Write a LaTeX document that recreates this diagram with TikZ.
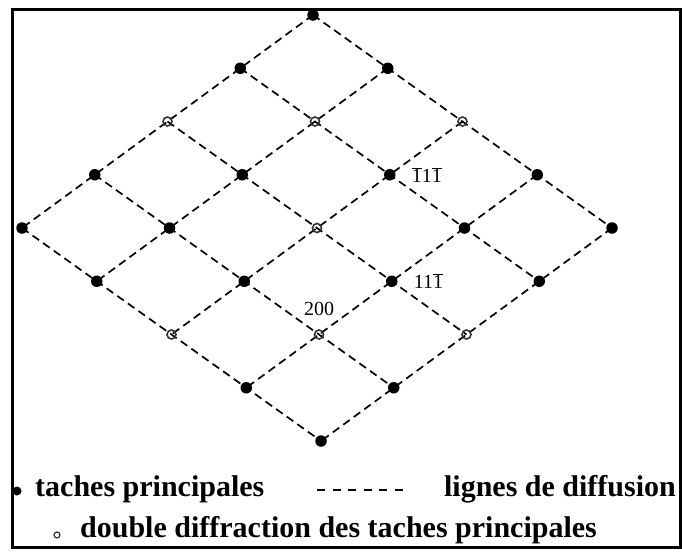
\documentclass[tikz,border=0pt]{standalone}
\usepackage{fontspec}
\setmainfont{Liberation Serif}
\usetikzlibrary{positioning}

\newcommand{\ovl}[1]{\ensuremath{\overline{\mbox{#1}}}}

\tikzset{
  diffline/.style={dash pattern=on 8pt off 5pt,line width=1.7pt},
  mainspot/.style={circle,fill=black,inner sep=0pt,minimum size=11.5pt},
  ddspot/.style={circle,draw=black!80,line width=1.6pt,inner sep=0pt,minimum size=9pt},
  idxlabel/.style={font=\fontsize{20}{22}\selectfont,inner sep=1pt},
  legtext/.style={font=\fontsize{30}{36}\selectfont\bfseries,inner sep=0pt},
}

\begin{document}
\begin{tikzpicture}[x=1pt,y=-1pt]
\useasboundingbox (0,0) rectangle (682,552);
% ================= Frame =================
\draw[line width=3pt] (12,9) rectangle (680,547);

% ================= Reciprocal lattice (u: down-left, v: down-right) =================
\foreach \i in {0,...,4}{
  \foreach \j in {0,...,4}{
    \coordinate (c-\i-\j) at ({313-72.75*\i+74.75*\j},{15+53.25*\i+53.25*\j});
  }
}
\foreach \i in {0,...,4}{
  \draw[diffline] (c-\i-0) -- (c-\i-4);
  \draw[diffline] (c-0-\i) -- (c-4-\i);
}
% principal spots
\foreach \i/\j in {0/0,1/0,0/1,3/0,2/1,1/2,0/3,4/0,3/1,1/3,0/4,4/1,3/2,2/3,1/4,4/3,3/4,4/4}{
  \node[mainspot] (s-\i-\j) at (c-\i-\j) {};
}
% double diffraction spots
\foreach \i/\j in {2/0,1/1,0/2,2/2,4/2,3/3,2/4}{
  \node[ddspot] (s-\i-\j) at (c-\i-\j) {};
}
\node[idxlabel,right=15pt of s-1-2] {\ovl{1}1\ovl{1}};
\node[idxlabel,right=15pt of s-2-3] {11\ovl{1}};
\node[idxlabel,above=12pt of s-3-3] {200};

% ================= Legend =================
\node[mainspot,minimum size=9pt] (legdot) at (17,491) {};
\node[legtext,anchor=base west] (legmain) at (35,496) {taches principales};
\coordinate (dashA) at (317,490);
\coordinate (dashB) at (403,490);
\draw[diffline,dash pattern=on 8pt off 7.6pt] (dashA) -- (dashB);
\node[legtext,anchor=base east] (legline) at (676,496) {lignes de diffusion};
\node[ddspot,minimum size=6pt,line width=1.2pt] (legring) at (57,535) {};
\node[legtext,anchor=base west] (legdd) at (80,537) {double diffraction des taches principales};
\end{tikzpicture}
\end{document}
